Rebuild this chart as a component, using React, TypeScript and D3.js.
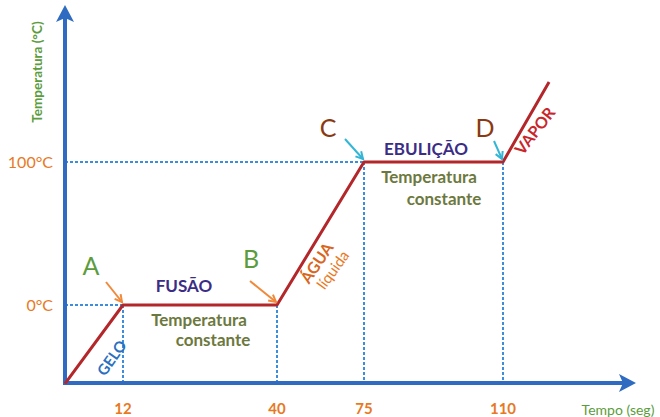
import React from "react";
import * as d3 from "d3";

// ---- data ----
const curveTime = [0, 12, 40, 75, 110, 121.6];
const curveTemp = [-55, 0, 0, 100, 100, 156];
const xTicks = [12, 40, 75, 110];
const yTicks = [0, 100];
const yTickLabels = ["0°C", "100°C"];
const pointLabels = ["A", "B", "C", "D"];
const pointTimes = [12, 40, 75, 110];
const pointTemps = [0, 0, 100, 100];

const W = 660;
const H = 417;
const axisColor = "#2f6cc1";
const dashColor = "#3c8ddb";
const lineColor = "#b3272b";
const orange = "#e8791f";
const green = "#5c9c3c";
const brown = "#8a3a12";
const purple = "#3b2d86";
const olive = "#5d6b2a";
const font = "Lato, 'Open Sans', sans-serif";

export default function App() {
  const x = d3.scaleLinear().domain([0, 12, 40, 75, 110]).range([65, 123, 277, 364, 503]);
  const y = d3.scaleLinear().domain([0, 100]).range([305, 162]);
  const x0 = x(0);
  const yBase = 383;

  const pts: [number, number][] = curveTime.map((t, i) => [x(t), y(curveTemp[i])]);
  const line = d3.line()(pts) as string;

  const arrowCfg = [
    { dx: -16, dy: -20, color: "#f08a3a", lx: 91, ly: 275, lc: green },
    { dx: -26, dy: -21, color: "#f08a3a", lx: 251, ly: 268, lc: green },
    { dx: -18, dy: -20, color: "#33b5d6", lx: 328, ly: 137, lc: brown },
    { dx: -8, dy: -18, color: "#33b5d6", lx: 485, ly: 137, lc: brown },
  ];

  const arrowHead = (tx: number, ty: number, fx: number, fy: number) => {
    const ang = Math.atan2(ty - fy, tx - fx);
    const L = 8;
    const a1 = ang + Math.PI - 0.5;
    const a2 = ang + Math.PI + 0.5;
    return `M${tx + L * Math.cos(a1)},${ty + L * Math.sin(a1)}L${tx},${ty}L${tx + L * Math.cos(a2)},${ty + L * Math.sin(a2)}`;
  };

  const xEnd = 636;
  const yTop = 5;

  return (
    <svg width={W} height={H} style={{ position: "absolute", left: 0, top: 0, background: "#fff" }} fontFamily={font}>
      {yTicks.map((v, i) => {
        const idx = curveTemp.indexOf(v);
        return (
          <line key={"h" + i} x1={x0} x2={x(curveTime[idx])} y1={y(v)} y2={y(v)}
            stroke={dashColor} strokeWidth={2} strokeDasharray="3,2" />
        );
      })}
      {xTicks.map((t, i) => (
        <line key={"v" + i} x1={x(t)} x2={x(t)} y1={y(pointTemps[i])} y2={yBase}
          stroke={dashColor} strokeWidth={2} strokeDasharray="3,2" />
      ))}

      <line x1={x0} x2={xEnd - 8} y1={yBase} y2={yBase} stroke={axisColor} strokeWidth={4} />
      <path d={`M${xEnd},${yBase}L${xEnd - 17},${yBase - 9}L${xEnd - 13},${yBase}L${xEnd - 17},${yBase + 9}Z`} fill={axisColor} />
      <line x1={x0} x2={x0} y1={yBase + 2} y2={yTop + 8} stroke={axisColor} strokeWidth={4} />
      <path d={`M${x0},${yTop}L${x0 - 9},${yTop + 17}L${x0},${yTop + 13}L${x0 + 9},${yTop + 17}Z`} fill={axisColor} />

      <path d={line} fill="none" stroke={lineColor} strokeWidth={3} strokeLinejoin="round" />

      {yTicks.map((v, i) => (
        <text key={"yl" + i} x={53} y={y(v)} dy="0.35em" textAnchor="end" fill={orange} fontSize={16}>
          {yTickLabels[i]}
        </text>
      ))}
      {xTicks.map((t, i) => (
        <text key={"xl" + i} x={x(t)} y={409} dy="0.35em" textAnchor="middle" fill={orange} fontSize={15} fontWeight="bold">
          {t}
        </text>
      ))}

      <text transform={`translate(42,72) rotate(-90)`} textAnchor="middle" fill={green} fontSize={13.5} fontWeight="bold">
        Temperatura (°C)
      </text>
      <text x={618} y={410} dy="0.35em" textAnchor="middle" fill={green} fontSize={14}>
        Tempo (seg)
      </text>

      {pointLabels.map((lab, i) => {
        const tx = x(pointTimes[i]) - 1;
        const ty = y(pointTemps[i]) - 3;
        const c = arrowCfg[i];
        const fx = tx + c.dx;
        const fy = ty + c.dy;
        return (
          <g key={"p" + i}>
            <line x1={fx} y1={fy} x2={tx} y2={ty} stroke={c.color} strokeWidth={2} />
            <path d={arrowHead(tx, ty, fx, fy)} fill="none" stroke={c.color} strokeWidth={2} />
            <text x={c.lx} y={c.ly} textAnchor="middle" fill={c.lc} fontSize={25}>{lab}</text>
          </g>
        );
      })}

      <text x={184} y={292} textAnchor="middle" fill={purple} fontSize={17} fontWeight="bold">FUSÃO</text>
      <text x={199} y={326} textAnchor="middle" fill={olive} fontSize={17} fontWeight="bold" opacity={0.9}>Temperatura</text>
      <text x={213} y={346} textAnchor="middle" fill={olive} fontSize={17} fontWeight="bold" opacity={0.9}>constante</text>

      <text x={426} y={155} textAnchor="middle" fill={purple} fontSize={17} fontWeight="bold">EBULIÇÃO</text>
      <text x={429} y={183} textAnchor="middle" fill={olive} fontSize={17} fontWeight="bold" opacity={0.9}>Temperatura</text>
      <text x={444} y={205} textAnchor="middle" fill={olive} fontSize={17} fontWeight="bold" opacity={0.9}>constante</text>

      <text transform="translate(112,358) rotate(-55)" textAnchor="middle" dy="0.35em" fill="#2a6fc0" fontSize={15} fontWeight="bold">GELO</text>
      <text transform="translate(317,263) rotate(-56)" textAnchor="middle" dy="0.35em" fill="#d9661c" fontSize={16} fontWeight="bold">ÁGUA</text>
      <text transform="translate(333,270) rotate(-54)" textAnchor="middle" dy="0.35em" fill={orange} fontSize={15}>líquida</text>
      <text transform="translate(535,131) rotate(-52)" textAnchor="middle" dy="0.35em" fill="#c8262a" fontSize={16} fontWeight="bold">VAPOR</text>
    </svg>
  );
}
